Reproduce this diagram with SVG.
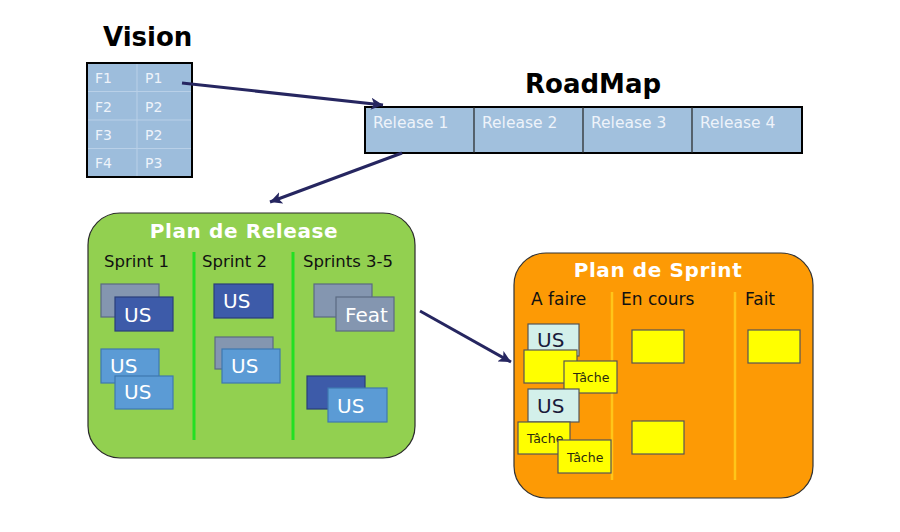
<svg xmlns="http://www.w3.org/2000/svg" width="900" height="532" viewBox="0 0 900 532">
<defs>
<marker id="ah" markerUnits="userSpaceOnUse" markerWidth="14" markerHeight="12" refX="12" refY="6" orient="auto">
<path d="M0,0 L12,6 L0,12 L3,6 Z" fill="#262660"/>
</marker>
</defs>
<style>
text{font-family:"DejaVu Sans","Verdana",sans-serif}
.h{font-weight:bold;font-size:26px;fill:#000}
.t{font-weight:bold;font-size:20px;fill:#fff;letter-spacing:0.6px}
.cell{font-size:14px;fill:#eef3fa}
.rel{font-size:15.5px;fill:#eef3fa}
.col{font-size:16.5px;fill:#111}
.us{font-size:20px;fill:#fff}
.usd{font-size:20px;fill:#1a1a3a}
.ta{font-size:12.5px;fill:#2a2a10}
.grey{fill:#8496b0;stroke:#5a6a82;stroke-width:1.2}
.dark{fill:#3d5ba9;stroke:#2a3f7a;stroke-width:1.2}
.light{fill:#5b9bd5;stroke:#3e78b0;stroke-width:1.2}
.mint{fill:#d3f0ea;stroke:#555;stroke-width:1.2}
.yel{fill:#ffff00;stroke:#555;stroke-width:1.2}
.conn{stroke:#262660;stroke-width:3;fill:none;marker-end:url(#ah)}
</style>
<rect width="900" height="532" fill="#fff"/>

<g id="vision">
<text class="h" x="103" y="46">Vision</text>
<rect x="87" y="63" width="105" height="114" fill="#9dbddc" stroke="#000" stroke-width="2"/>
<g stroke="#b9d0e8" stroke-width="1">
<line x1="137" y1="64" x2="137" y2="176"/>
<line x1="88" y1="91.5" x2="191" y2="91.5"/>
<line x1="88" y1="120" x2="191" y2="120"/>
<line x1="88" y1="148.5" x2="191" y2="148.5"/>
</g>
<text class="cell" x="95" y="83">F1</text><text class="cell" x="145" y="83">P1</text>
<text class="cell" x="95" y="112">F2</text><text class="cell" x="145" y="112">P2</text>
<text class="cell" x="95" y="140">F3</text><text class="cell" x="145" y="140">P2</text>
<text class="cell" x="95" y="168">F4</text><text class="cell" x="145" y="168">P3</text>
</g>

<g id="roadmap">
<text class="h" x="525" y="93">RoadMap</text>
<rect x="365" y="107" width="437" height="46" fill="#a1c0dd" stroke="#000" stroke-width="2"/>
<g stroke="#222" stroke-width="1.2">
<line x1="474" y1="107" x2="474" y2="153"/>
<line x1="583" y1="107" x2="583" y2="153"/>
<line x1="692" y1="107" x2="692" y2="153"/>
</g>
<text class="rel" x="373" y="128">Release 1</text>
<text class="rel" x="482" y="128">Release 2</text>
<text class="rel" x="591" y="128">Release 3</text>
<text class="rel" x="700" y="128">Release 4</text>
</g>

<g id="plan-release">
<rect x="88" y="213" width="327" height="245" rx="32" fill="#92d050" stroke="#2b2b2b" stroke-width="1.2"/>
<text class="t" x="244" y="238" text-anchor="middle">Plan de Release</text>
<text class="col" x="104" y="267">Sprint 1</text>
<text class="col" x="202" y="267">Sprint 2</text>
<text class="col" x="303" y="267">Sprints 3-5</text>
<g stroke="#22e022" stroke-width="3">
<line x1="194" y1="252" x2="194" y2="440"/>
<line x1="293" y1="252" x2="293" y2="440"/>
</g>
<rect class="grey" x="101" y="284" width="58" height="33"/>
<rect class="dark" x="115" y="297" width="58" height="34"/>
<text class="us" x="124" y="322">US</text>
<rect class="light" x="101" y="349" width="58" height="34"/>
<text class="us" x="110" y="373">US</text>
<rect class="light" x="115" y="376" width="58" height="33"/>
<text class="us" x="124" y="399">US</text>
<rect class="dark" x="214" y="284" width="59" height="34"/>
<text class="us" x="223" y="308">US</text>
<rect class="grey" x="215" y="337" width="58" height="32"/>
<rect class="light" x="222" y="349" width="58" height="34"/>
<text class="us" x="231" y="373">US</text>
<rect class="grey" x="314" y="284" width="58" height="33"/>
<rect class="grey" x="336" y="297" width="58" height="34"/>
<text class="us" x="345" y="322">Feat</text>
<rect class="dark" x="307" y="376" width="58" height="33"/>
<rect class="light" x="328" y="388" width="59" height="34"/>
<text class="us" x="337" y="413">US</text>
</g>

<g id="plan-sprint">
<rect x="514" y="253" width="299" height="245" rx="32" fill="#fd9a05" stroke="#333" stroke-width="1.2"/>
<text class="t" x="658" y="277" text-anchor="middle">Plan de Sprint</text>
<text class="col" x="531" y="305" style="font-size:17px">A faire</text>
<text class="col" x="621" y="305" style="font-size:17px">En cours</text>
<text class="col" x="745" y="305" style="font-size:17px">Fait</text>
<g stroke="#ffc61a" stroke-width="2.5">
<line x1="612" y1="292" x2="612" y2="480"/>
<line x1="735" y1="292" x2="735" y2="480"/>
</g>
<rect class="mint" x="528" y="324" width="51" height="32"/>
<text class="usd" x="537" y="347">US</text>
<rect class="yel" x="524" y="350" width="53" height="33"/>
<rect class="yel" x="564" y="361" width="53" height="32"/>
<text class="ta" x="573" y="382">Tâche</text>
<rect class="mint" x="528" y="389" width="51" height="33"/>
<text class="usd" x="537" y="413">US</text>
<rect class="yel" x="518" y="422" width="52" height="32"/>
<text class="ta" x="527" y="443">Tâche</text>
<rect class="yel" x="558" y="440" width="53" height="33"/>
<text class="ta" x="567" y="462">Tâche</text>
<rect class="yel" x="632" y="330" width="52" height="33"/>
<rect class="yel" x="632" y="421" width="52" height="33"/>
<rect class="yel" x="748" y="330" width="52" height="33"/>
</g>

<g id="connectors">
<line class="conn" x1="182" y1="83" x2="383" y2="105"/>
<line class="conn" x1="402" y1="153" x2="270" y2="202"/>
<line class="conn" x1="420" y1="311" x2="511" y2="362"/>
</g>
</svg>
